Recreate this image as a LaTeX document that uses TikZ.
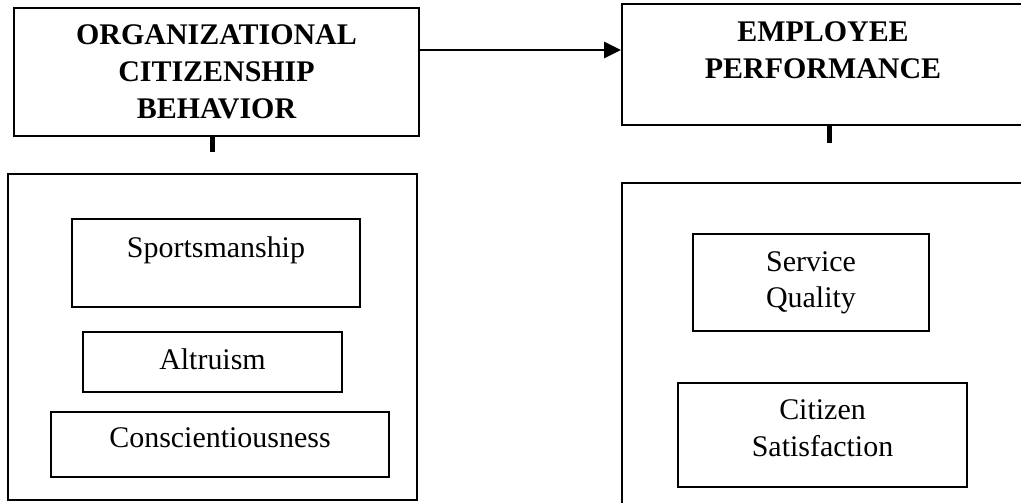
\documentclass[tikz,border=0pt]{standalone}
\usepackage{fontspec}
\setmainfont{Liberation Serif}
\usetikzlibrary{arrows.meta}
\newcommand{\pxu}{0.025cm}
\tikzstyle{caja} = [rectangle, draw=black, line width=1.4pt, inner sep=0pt, align=center, font=\fontsize{21.3}{25.8}\selectfont]
\tikzstyle{titulo} = [caja, font=\fontsize{21.3}{26.3}\selectfont\bfseries]
\tikzstyle{marco} = [rectangle, draw=black, line width=1.4pt, inner sep=0pt]
\tikzstyle{arrow} = [line width=1.8pt, -{Triangle[length=12pt, width=11.4pt]}]
\tikzstyle{tope} = [line width=3.6pt]

\begin{document}
\begin{tikzpicture}[x=\pxu, y=-\pxu]
        \clip (0,0) rectangle (1021,502);
        \node (ocb) [titulo, minimum width=405*\pxu, minimum height=128*\pxu] at (216.5,72) {ORGANIZATIONAL\\ CITIZENSHIP\\ BEHAVIOR};
        \node (ep) [titulo, minimum width=402*\pxu, minimum height=121*\pxu, text depth=28*\pxu] at (823,64.5) {EMPLOYEE\\ PERFORMANCE};

        \node (ocbmarco) [marco, minimum width=409*\pxu, minimum height=326*\pxu] at (212.5,337) {};
        \node (epmarco) [marco, minimum width=402*\pxu, minimum height=323*\pxu] at (823,344.5) {};

        \node (sport) [caja, minimum width=288*\pxu, minimum height=88*\pxu, text depth=32*\pxu] at (216,263) {Sportsmanship};
        \node (altru) [caja, minimum width=259*\pxu, minimum height=60*\pxu, text depth=5*\pxu] at (212.5,362) {Altruism};
        \node (consc) [caja, minimum width=338*\pxu, minimum height=65*\pxu, text depth=14*\pxu] at (220,444.5) {Conscientiousness};

        \node (servq) [caja, minimum width=236*\pxu, minimum height=97*\pxu] at (811,282.5) {Service\\ Quality};
        \node (citsat) [caja, minimum width=289*\pxu, minimum height=104*\pxu, text depth=14*\pxu] at (822.5,435) {Citizen\\ Satisfaction};

        \coordinate (ocbtope) at (212.5,152);
        \coordinate (eptope) at (829.5,143);
        \draw [tope] (ocb.south -| ocbtope) -- (ocbtope);
        \draw [tope] (ep.south -| eptope) -- (eptope);

        \draw [arrow] ([yshift=22*\pxu]ocb.east) -- ([yshift=14.5*\pxu]ep.west);
\end{tikzpicture}
\end{document}
